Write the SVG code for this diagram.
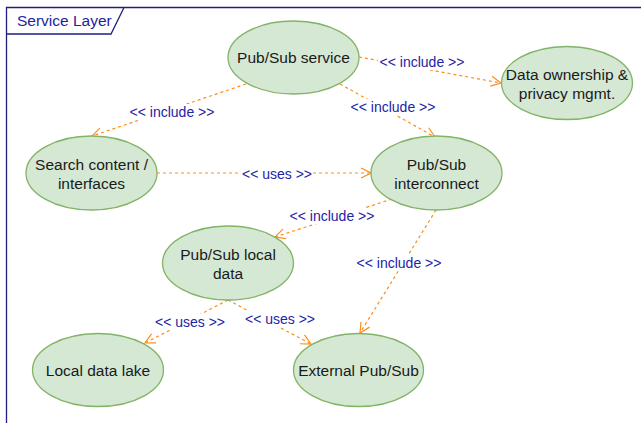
<svg xmlns="http://www.w3.org/2000/svg" width="641" height="423" viewBox="0 0 641 423">
<defs>
<style>
.node ellipse{fill:#d5e8d4;stroke:#82b366;stroke-width:1.3}
.node text{font-family:"Liberation Sans",Arial,sans-serif;font-size:15.5px;fill:#1a1a1a;text-anchor:middle}
.edge{fill:none;stroke:#ff8c1a;stroke-width:1.2;stroke-dasharray:3 3}
.lbl{font-family:"Liberation Sans",Arial,sans-serif;font-size:14px;fill:#2323a6;text-anchor:middle}
.lblbg{fill:#ffffff}
.frame{fill:none;stroke:#1f1f80;stroke-width:1.3}
</style>
<marker id="open" viewBox="0 0 12 12" refX="11" refY="6" markerWidth="12" markerHeight="12" markerUnits="userSpaceOnUse" orient="auto">
<path d="M1,1 L11,6 L1,11" fill="none" stroke="#ff8c1a" stroke-width="1.2"/>
</marker>
</defs>
<rect width="641" height="423" fill="#ffffff"/>
<g id="frame">
<path class="frame" d="M6.5,430 L6.5,7.5 L650,7.5"/>
<path class="frame" d="M6.5,34 L111,34 L124,7.5"/>
<text x="17" y="26" style="font-family:'Liberation Sans',Arial,sans-serif;font-size:15.5px;fill:#1f1fa0">Service Layer</text>
</g>
<g id="connectors">
<path class="edge" d="M246,84 L92,136" marker-end="url(#open)"/>
<path class="edge" d="M359,57 L501,83" marker-end="url(#open)"/>
<path class="edge" d="M340,84 L435,137" marker-end="url(#open)"/>
<path class="edge" d="M157,173 L371,173" marker-end="url(#open)"/>
<path class="edge" d="M392,199 L275,237" marker-end="url(#open)"/>
<path class="edge" d="M436,210 L360,333" marker-end="url(#open)"/>
<path class="edge" d="M228,300 L145,343" marker-end="url(#open)"/>
<path class="edge" d="M228,300 L311,344" marker-end="url(#open)"/>
<rect class="lblbg" x="128" y="104" width="88" height="16"/>
<text class="lbl" x="172" y="117">&lt;&lt; include &gt;&gt;</text>
<rect class="lblbg" x="378" y="54" width="88" height="16"/>
<text class="lbl" x="422" y="67">&lt;&lt; include &gt;&gt;</text>
<rect class="lblbg" x="349" y="99" width="88" height="16"/>
<text class="lbl" x="393" y="112">&lt;&lt; include &gt;&gt;</text>
<rect class="lblbg" x="241" y="166" width="72" height="16"/>
<text class="lbl" x="277" y="179">&lt;&lt; uses &gt;&gt;</text>
<rect class="lblbg" x="288" y="208" width="88" height="16"/>
<text class="lbl" x="332" y="221">&lt;&lt; include &gt;&gt;</text>
<rect class="lblbg" x="355" y="255" width="88" height="16"/>
<text class="lbl" x="399" y="268">&lt;&lt; include &gt;&gt;</text>
<rect class="lblbg" x="154" y="314" width="72" height="16"/>
<text class="lbl" x="190" y="327">&lt;&lt; uses &gt;&gt;</text>
<rect class="lblbg" x="244" y="311" width="72" height="16"/>
<text class="lbl" x="280" y="324">&lt;&lt; uses &gt;&gt;</text>
</g>
<g id="pubsub-service" class="node">
<ellipse cx="293.5" cy="57.5" rx="65.5" ry="36.5"/>
<text x="293.5" y="63">Pub/Sub service</text>
</g>
<g id="search-content" class="node">
<ellipse cx="91.5" cy="173" rx="65.5" ry="37"/>
<text x="91.5" y="169.5">Search content /</text>
<text x="91.5" y="188.5">interfaces</text>
</g>
<g id="data-ownership" class="node">
<ellipse cx="567" cy="83" rx="65.5" ry="36.5"/>
<text x="567" y="79.5">Data ownership &amp;</text>
<text x="567" y="98.5">privacy mgmt.</text>
</g>
<g id="pubsub-interconnect" class="node">
<ellipse cx="436.5" cy="173" rx="65.5" ry="37"/>
<text x="436.5" y="169.5">Pub/Sub</text>
<text x="436.5" y="188.5">interconnect</text>
</g>
<g id="pubsub-local-data" class="node">
<ellipse cx="228" cy="263" rx="65.5" ry="37"/>
<text x="228" y="259.5">Pub/Sub local</text>
<text x="228" y="278.5">data</text>
</g>
<g id="local-data-lake" class="node">
<ellipse cx="98" cy="370" rx="65.5" ry="36.5"/>
<text x="98" y="375.5">Local data lake</text>
</g>
<g id="external-pubsub" class="node">
<ellipse cx="358.5" cy="370" rx="65" ry="36.5"/>
<text x="358.5" y="375.5">External Pub/Sub</text>
</g>
</svg>
